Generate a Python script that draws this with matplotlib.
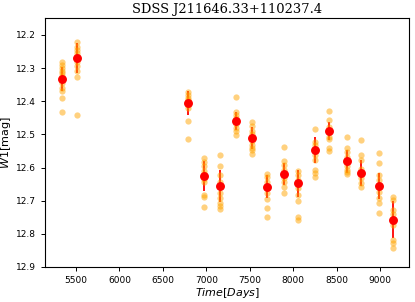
import numpy as np
import matplotlib.pyplot as plt

# Epoch times (days) and single-exposure W1 magnitudes per epoch
epoch_t = [5333, 5513, 6793, 6972, 7156, 7336, 7520, 7692,
           7888, 8057, 8252, 8416, 8615, 8780, 8983, 9143]

w1_single = [
    [12.282, 12.29, 12.30, 12.31, 12.315, 12.325, 12.335, 12.345, 12.36, 12.37, 12.391, 12.432],
    [12.222, 12.235, 12.245, 12.255, 12.262, 12.27, 12.28, 12.295, 12.31, 12.328, 12.442],
    [12.371, 12.38, 12.39, 12.395, 12.40, 12.41, 12.42, 12.459, 12.514],
    [12.571, 12.583, 12.595, 12.61, 12.62, 12.635, 12.645, 12.683, 12.69, 12.72],
    [12.563, 12.596, 12.623, 12.643, 12.658, 12.678, 12.693, 12.707, 12.717, 12.726],
    [12.388, 12.432, 12.44, 12.45, 12.46, 12.47, 12.48, 12.49, 12.502],
    [12.462, 12.475, 12.49, 12.50, 12.51, 12.52, 12.532, 12.54, 12.547, 12.56],
    [12.618, 12.628, 12.643, 12.658, 12.678, 12.696, 12.722, 12.749],
    [12.537, 12.581, 12.593, 12.608, 12.620, 12.633, 12.643, 12.660, 12.678],
    [12.610, 12.623, 12.638, 12.648, 12.663, 12.683, 12.702, 12.749, 12.757],
    [12.485, 12.522, 12.532, 12.548, 12.563, 12.578, 12.608, 12.615, 12.628],
    [12.430, 12.457, 12.477, 12.492, 12.507, 12.515, 12.540, 12.550],
    [12.507, 12.542, 12.553, 12.568, 12.581, 12.596, 12.606, 12.613, 12.620],
    [12.516, 12.563, 12.578, 12.603, 12.616, 12.633, 12.648, 12.660],
    [12.557, 12.586, 12.623, 12.638, 12.656, 12.673, 12.693, 12.707, 12.737],
    [12.690, 12.698, 12.729, 12.739, 12.757, 12.774, 12.819, 12.827, 12.843],
]

# Epoch means and their spread
w1_mean = [12.333, 12.269, 12.405, 12.626, 12.656, 12.459, 12.510, 12.658,
           12.620, 12.648, 12.548, 12.490, 12.581, 12.616, 12.656, 12.757]
w1_err = [0.035, 0.045, 0.037, 0.046, 0.048, 0.028, 0.033, 0.035,
          0.033, 0.042, 0.039, 0.028, 0.035, 0.039, 0.040, 0.055]

fig = plt.figure(figsize=(4.15, 3.02), dpi=100)
ax = fig.add_axes([0.1084, 0.116, 0.8776, 0.823])

# error bars underneath the single exposures
ax.errorbar(epoch_t, w1_mean, yerr=w1_err, fmt='none', ecolor='red',
            elinewidth=1.3, capsize=0, zorder=1)

# Single exposures
for t, mags in zip(epoch_t, w1_single):
    ax.plot([t] * len(mags), mags, 'o', color='orange', alpha=0.5,
            markersize=4.5, markeredgewidth=0, zorder=2)

# Epoch averages on top
ax.plot(epoch_t, w1_mean, 'o', color='red', markersize=5.4, zorder=3)

ax.set_xlim(5143, 9333)
ax.set_ylim(12.9, 12.15)
ax.set_xticks(np.arange(5500, 9001, 500))
ax.set_yticks(np.arange(12.2, 12.91, 0.1))
ax.set_yticklabels([f'{v:.1f}' for v in np.arange(12.2, 12.91, 0.1)])
ax.tick_params(labelsize=6.5, length=3, width=0.7)
for s in ax.spines.values():
    s.set_linewidth(0.8)

ax.set_xlabel(r'$Time[Days]$', fontsize=8, labelpad=1)
ax.set_ylabel(r'$W1$[mag]', fontsize=8, labelpad=2)
ax.set_title('SDSS J211646.33+110237.4', fontsize=9.4, family='DejaVu Serif', pad=4)

fig.savefig('out.png', dpi=100)
